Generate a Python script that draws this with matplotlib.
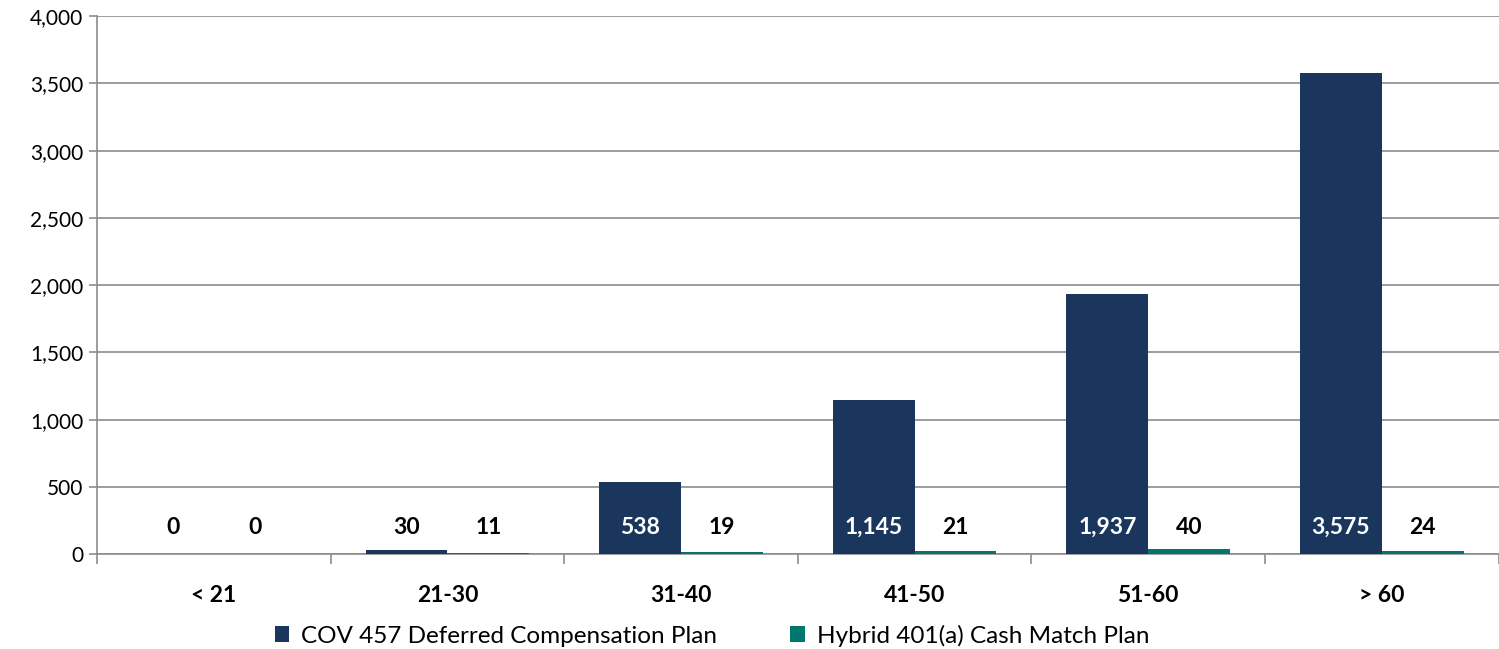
import numpy as np
import matplotlib
matplotlib.use("Agg")
import matplotlib.pyplot as plt
from matplotlib.ticker import FuncFormatter, FixedLocator

categories = ['< 21', '21-30', '31-40', '41-50', '51-60', '> 60']
cov457 = [0, 30, 538, 1145, 1937, 3575]
hybrid401a = [0, 11, 19, 21, 40, 24]
series_names = ['COV 457 Deferred Compensation Plan', 'Hybrid 401(a) Cash Match Plan']

navy = '#1b365d'
teal = '#00766e'
grid_gray = '#8c8c8c'

plt.rcParams['font.family'] = ['Lato', 'DejaVu Sans']

fig = plt.figure(figsize=(14.99, 6.49), dpi=100)
ax = fig.add_axes([0.0647, 0.146, 0.935, 0.829])

x = np.arange(len(categories))
w = 0.35
b1 = ax.bar(x - w / 2, cov457, w, color=navy, zorder=3)
b2 = ax.bar(x + w / 2, hybrid401a, w, color=teal, zorder=3)

# data labels sit low in the plot, white when inside a tall bar
label_y = 200
for i in range(len(categories)):
    c = 'white' if cov457[i] > 400 else 'black'
    ax.text(x[i] - w / 2, label_y, f'{cov457[i]:,}', ha='center', va='center',
            fontsize=16.5, fontweight='bold', color=c, zorder=4)
    ax.text(x[i] + w / 2, label_y, f'{hybrid401a[i]:,}', ha='center', va='center',
            fontsize=16.5, fontweight='bold', color='black', zorder=4)

ax.set_xlim(-0.5, len(categories) - 0.5)
ax.set_ylim(0, 4000)
ax.set_yticks(np.arange(0, 4001, 500))
ax.yaxis.set_major_formatter(FuncFormatter(lambda v, p: f'{int(v):,}'))
ax.grid(axis='y', color=grid_gray, linewidth=1.2, zorder=0)

ax.set_xticks(x)
ax.set_xticklabels(categories, fontsize=16.5, fontweight='bold')
ax.xaxis.set_minor_locator(FixedLocator(np.arange(-0.5, len(categories), 1.0)))
ax.tick_params(axis='x', which='major', length=0, pad=22)
ax.tick_params(axis='x', which='minor', length=7, color=grid_gray, width=1.2)
ax.tick_params(axis='y', length=6, color=grid_gray, width=1.2, labelsize=15, pad=4)

for s in ['top', 'right']:
    ax.spines[s].set_visible(False)
for s in ['left', 'bottom']:
    ax.spines[s].set_color(grid_gray)
    ax.spines[s].set_linewidth(1.2)

leg = fig.legend([b1, b2], series_names, loc='lower center', ncol=2,
                 bbox_to_anchor=(0.475, -0.03), frameon=False, fontsize=17.5,
                 handlelength=0.6, handleheight=0.6, columnspacing=3, handletextpad=0.5)

fig.savefig('out.png', dpi=100)
